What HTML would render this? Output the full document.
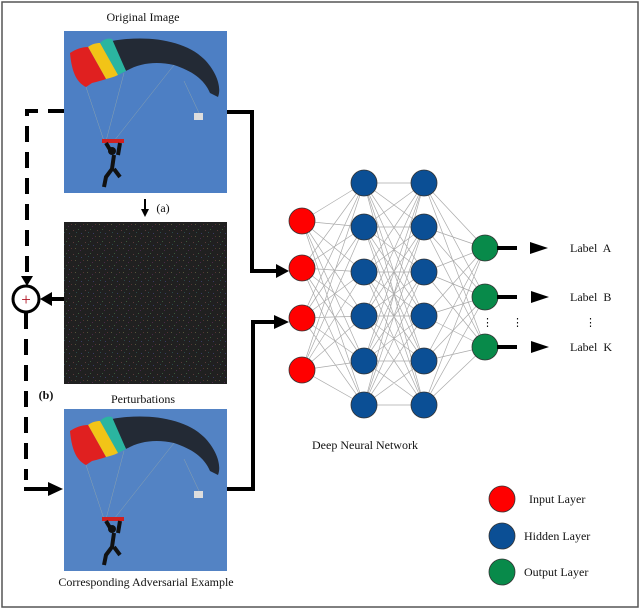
<!DOCTYPE html>
<html><head><meta charset="utf-8"><style>
html,body{margin:0;padding:0;background:#fff;}
svg{display:block;font-family:"Liberation Serif",serif;}
</style></head><body>
<svg width="640" height="609" viewBox="0 0 640 609" xmlns="http://www.w3.org/2000/svg">
<defs>
<pattern id="nz" width="12" height="12" patternUnits="userSpaceOnUse">
<rect width="12" height="12" fill="#202020"/>
<rect x="1" y="2" width="1" height="1" fill="#5a3a3a"/>
<rect x="6" y="1" width="1" height="1" fill="#3a5a3a"/>
<rect x="9" y="5" width="1" height="1" fill="#3a3a66"/>
<rect x="3" y="8" width="1" height="1" fill="#55553a"/>
<rect x="8" y="10" width="1" height="1" fill="#4a2a4a"/>
<rect x="4" y="4" width="1" height="1" fill="#2a4a4a"/>
<rect x="11" y="8" width="1" height="1" fill="#553333"/>
</pattern>
<g id="chute">
<path d="M48 10 C80 4 120 8 140 28 C152 40 158 56 154 66 L146 62 C140 48 128 40 110 34 C92 30 76 32 62 40 Z" fill="#232a35"/>
<path d="M36 12 C40 8 44 7 48 8 L62 40 C58 42 56 43 54 44 Z" fill="#2bb5a0"/>
<path d="M24 16 C28 13 32 12 36 12 L54 44 C50 46 46 47 42 48 Z" fill="#f2c417"/>
<path d="M6 22 C12 18 18 16 24 16 L42 48 C36 50 32 51 28 52 L22 56 C14 52 8 44 6 22 Z" fill="#e02020"/>
<g stroke="#9aa" stroke-width="0.4"><line x1="22" y1="56" x2="40" y2="110"/><line x1="60" y1="42" x2="42" y2="110"/><line x1="110" y1="34" x2="50" y2="110"/><line x1="120" y1="50" x2="136" y2="84"/></g>
<rect x="130" y="82" width="9" height="7" fill="#ddd"/>
<rect x="38" y="108" width="22" height="4" fill="#d02020"/>
<path d="M42 112 L48 122 M56 112 L54 124 M50 124 L48 138 L42 146 L40 156 M50 138 L56 146" stroke="#111" stroke-width="4" fill="none"/>
<circle cx="48" cy="120" r="4" fill="#111"/>
</g>
</defs>
<rect x="2" y="2" width="636" height="605" fill="none" stroke="#555" stroke-width="1.5"/>
<rect x="64" y="31" width="163" height="162" fill="#4d7fc4"/>
<use href="#chute" x="64" y="31"/>
<rect x="64" y="222" width="163" height="162" fill="url(#nz)"/>
<rect x="64" y="409" width="163" height="162" fill="#5383c4"/>
<use href="#chute" x="64" y="409"/>
<g font-size="12" fill="#111" text-anchor="middle">
<text x="143" y="21">Original Image</text>
<text x="143" y="403">Perturbations</text>
<text x="146" y="586">Corresponding Adversarial Example</text>
<text x="365" y="449">Deep Neural Network</text>
<text x="163" y="212">(a)</text>
<text x="46" y="399" font-weight="bold">(b)</text>
</g>
<line x1="145" y1="199" x2="145" y2="210" stroke="#000" stroke-width="2"/>
<polygon points="141,209 149,209 145,217" fill="#000"/>
<polyline points="227,112 252,112 252,271 278,271" fill="none" stroke="#000" stroke-width="4"/>
<polygon points="276,264 289,271 276,278" fill="#000"/>
<polyline points="227,489 253,489 253,322 276,322" fill="none" stroke="#000" stroke-width="4"/>
<polygon points="274,315 289,322 274,329" fill="#000"/>
<polyline points="64,111 27,111 27,283" fill="none" stroke="#000" stroke-width="4" stroke-dasharray="16,10"/>
<polygon points="21,276 33,276 27,286" fill="#000"/>
<line x1="64" y1="299" x2="50" y2="299" stroke="#000" stroke-width="4"/>
<polygon points="52,292 40,299 52,306" fill="#000"/>
<circle cx="26" cy="299" r="13" fill="#fff" stroke="#000" stroke-width="3"/>
<text x="26" y="305" font-size="17" text-anchor="middle" fill="#b01020">+</text>
<polyline points="26,313 26,480" fill="none" stroke="#000" stroke-width="4" stroke-dasharray="16,10"/>
<line x1="24" y1="489" x2="50" y2="489" stroke="#000" stroke-width="4"/>
<polygon points="48,482 63,489 48,496" fill="#000"/>
<g stroke="#aaa" stroke-width="0.7">
<path d="M302 221L364 183M302 221L364 227M302 221L364 272M302 221L364 316M302 221L364 361M302 221L364 405
M302 268L364 183M302 268L364 227M302 268L364 272M302 268L364 316M302 268L364 361M302 268L364 405
M302 318L364 183M302 318L364 227M302 318L364 272M302 318L364 316M302 318L364 361M302 318L364 405
M302 370L364 183M302 370L364 227M302 370L364 272M302 370L364 316M302 370L364 361M302 370L364 405"/>
<path d="M364 183L424 183M364 183L424 227M364 183L424 272M364 183L424 316M364 183L424 361M364 183L424 405
M364 227L424 183M364 227L424 227M364 227L424 272M364 227L424 316M364 227L424 361M364 227L424 405
M364 272L424 183M364 272L424 227M364 272L424 272M364 272L424 316M364 272L424 361M364 272L424 405
M364 316L424 183M364 316L424 227M364 316L424 272M364 316L424 316M364 316L424 361M364 316L424 405
M364 361L424 183M364 361L424 227M364 361L424 272M364 361L424 316M364 361L424 361M364 361L424 405
M364 405L424 183M364 405L424 227M364 405L424 272M364 405L424 316M364 405L424 361M364 405L424 405"/>
<path d="M424 183L485 248M424 227L485 248M424 272L485 248M424 316L485 248M424 361L485 248M424 405L485 248
M424 183L485 297M424 227L485 297M424 272L485 297M424 316L485 297M424 361L485 297M424 405L485 297
M424 183L485 347M424 227L485 347M424 272L485 347M424 316L485 347M424 361L485 347M424 405L485 347"/>
</g>
<g stroke="#333" stroke-width="0.8">
<g fill="#f00"><circle cx="302" cy="221" r="13"/><circle cx="302" cy="268" r="13"/><circle cx="302" cy="318" r="13"/><circle cx="302" cy="370" r="13"/></g>
<g fill="#0b4f95"><circle cx="364" cy="183" r="13"/><circle cx="364" cy="227" r="13"/><circle cx="364" cy="272" r="13"/><circle cx="364" cy="316" r="13"/><circle cx="364" cy="361" r="13"/><circle cx="364" cy="405" r="13"/>
<circle cx="424" cy="183" r="13"/><circle cx="424" cy="227" r="13"/><circle cx="424" cy="272" r="13"/><circle cx="424" cy="316" r="13"/><circle cx="424" cy="361" r="13"/><circle cx="424" cy="405" r="13"/></g>
<g fill="#088a4a"><circle cx="485" cy="248" r="13"/><circle cx="485" cy="297" r="13"/><circle cx="485" cy="347" r="13"/></g>
</g>
<g stroke="#000" stroke-width="4"><line x1="497" y1="248" x2="517" y2="248"/><line x1="497" y1="297" x2="517" y2="297"/><line x1="497" y1="347" x2="517" y2="347"/></g>
<g fill="#000"><polygon points="530,242 548,248 530,254"/><polygon points="531,291 549,297 531,303"/><polygon points="531,341 549,347 531,353"/></g>
<g font-size="12" fill="#111"><text x="570" y="252" word-spacing="3">Label A</text><text x="570" y="301" word-spacing="3">Label B</text><text x="570" y="351" word-spacing="3">Label K</text>
<text x="482" y="326" font-size="11">⋮</text><text x="512" y="326" font-size="11">⋮</text><text x="585" y="326" font-size="11">⋮</text></g>
<g stroke="#333" stroke-width="0.8"><circle cx="502" cy="499" r="13" fill="#f00"/><circle cx="502" cy="536" r="13" fill="#0b4f95"/><circle cx="502" cy="572" r="13" fill="#088a4a"/></g>
<g font-size="12" fill="#111"><text x="529" y="503">Input Layer</text><text x="524" y="540">Hidden Layer</text><text x="524" y="576">Output Layer</text></g>
</svg>
</body></html>
